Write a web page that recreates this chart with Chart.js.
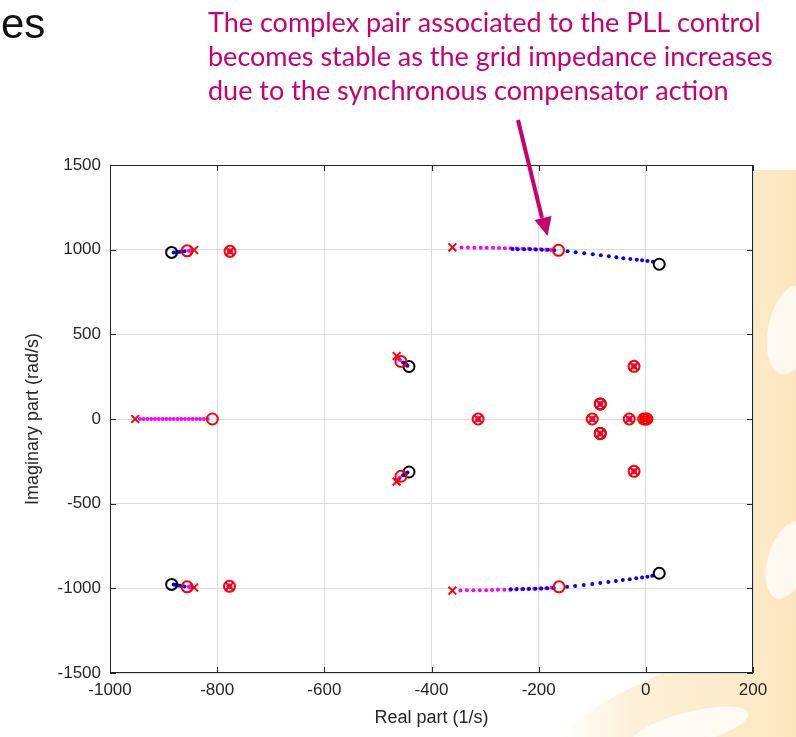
<!DOCTYPE html>
<html>
<head>
<meta charset="utf-8">
<script src="https://cdn.jsdelivr.net/npm/chart.js@4.4.0/dist/chart.umd.min.js"></script>
<style>
  html, body { margin: 0; background: #fff; }
  canvas { display: block; }
</style>
</head>
<body>
<canvas id="pzmap" width="796" height="737"></canvas>
<script>
// axis ticks
var xTicks = [-1000, -800, -600, -400, -200, 0, 200];
var yTicks = [-1500, -1000, -500, 0, 500, 1000, 1500];

// PLL complex pair, first sweep (magenta) and second sweep (blue)
var pllUpMagRe = [-344, -332, -320, -308, -297, -285, -274, -263, -252, -241, -230, -218, -207, -196, -186, -177];
var pllUpMagIm = [1013, 1013, 1012, 1012, 1011, 1011, 1010, 1009, 1008, 1007, 1006, 1005, 1003, 1002, 1000, 998];
var pllLoMagRe = [-346, -334, -322, -310, -298, -287, -276, -264, -253, -242, -231, -219, -208, -197, -186, -176];
var pllLoMagIm = [-1013, -1012, -1012, -1011, -1011, -1010, -1009, -1009, -1008, -1007, -1006, -1004, -1003, -1001, -999, -997];
var pllUpBlueRe = [-249, -239, -227, -216, -205, -194, -183, -171, -146, -131, -115, -99, -84, -69, -55, -42, -29, -17, -7, 3, 13];
var pllUpBlueIm = [1004, 1003, 1003, 1002, 1001, 1000, 999, 997, 990, 985, 979, 973, 967, 961, 955, 950, 945, 940, 937, 933, 929];
var pllLoBlueRe = [-252, -241, -229, -218, -206, -195, -184, -172, -147, -132, -116, -100, -85, -70, -56, -43, -30, -18, -7, 3, 12];
var pllLoBlueIm = [-1005, -1004, -1004, -1003, -1002, -1001, -1000, -998, -991, -986, -980, -974, -968, -962, -956, -951, -946, -941, -936, -931, -925];

// real pole moving along the negative real axis
var realMagRe = [-944, -937, -930, -923, -916, -909, -902, -895, -888, -881, -874, -867, -860, -853, -846, -839, -832, -825, -818];
var realMagIm = [0, 0, 0, 0, 0, 0, 0, 0, 0, 0, 0, 0, 0, 0, 0, 0, 0, 0, 0];

// high frequency pair near -850
var hfMagRe = [-853, -850, -847, -853, -850, -847];
var hfMagIm = [993, 995, 996, -991, -993, -994];
var hfBlueRe = [-881, -877, -873, -869, -865, -861, -881, -877, -873, -869, -865, -861];
var hfBlueIm = [983, 984, 986, 987, 989, 990, -978, -980, -983, -985, -987, -989];

// pair around -450
var midMagRe = [-463, -461, -459, -463, -461, -459];
var midMagIm = [364, 356, 348, -362, -354, -346];
var midBlueRe = [-453, -450, -447, -445, -453, -450, -447, -445];
var midBlueIm = [333, 326, 320, 314, -332, -326, -320, -316];

// modes that do not move with the grid impedance
var fixedRe = [-776, -777, -313, -100, -85, -85, -31, -22, -22, -4, 0, 2];
var fixedIm = [990, -988, 0, 0, 88, -86, 0, 311, -309, 0, 0, 0];

// sweep start (x), end of first sweep (red o), end of second sweep (black o)
var startRe = [-843, -843, -361, -361, -953, -465, -465];
var startIm = [998, -995, 1014, -1014, 0, 372, -370];
var midRe = [-856, -856, -163, -162, -809, -457, -457];
var midIm = [993, -991, 996, -991, 0, 340, -338];
var endRe = [-885, -885, 25, 25, -442, -442, -85, -85];
var endIm = [984, -977, 914, -911, 310, -313, 89, -85];

function pts(re, im) {
  return re.map(function (v, i) { return { x: v, y: im[i] }; });
}

var tickFont = { family: 'Arial, "Liberation Sans", sans-serif', size: 17 };
var textCol = '#262626';

var pageArt = {
  id: 'pageArt',
  beforeDraw: function (chart) {
    var ctx = chart.ctx, a = chart.chartArea;
    ctx.save();
    ctx.fillStyle = '#fff';
    ctx.fillRect(0, 0, chart.width, chart.height);
    // faint logo watermark at the right edge
    var g = ctx.createLinearGradient(560, 0, 796, 0);
    g.addColorStop(0, 'rgba(252,232,195,0)');
    g.addColorStop(0.3, 'rgba(252,230,190,0.6)');
    g.addColorStop(1, 'rgba(251,222,170,0.75)');
    ctx.fillStyle = g;
    ctx.beginPath();
    ctx.moveTo(753, 170);
    ctx.lineTo(796, 170);
    ctx.lineTo(796, 737);
    ctx.lineTo(560, 737);
    ctx.quadraticCurveTo(600, 690, 753, 640);
    ctx.closePath();
    ctx.fill();
    ctx.fillStyle = 'rgba(255,255,255,0.75)';
    ctx.beginPath();
    ctx.ellipse(690, 728, 60, 16, -0.25, 0, Math.PI * 2);
    ctx.fill();
    ctx.beginPath();
    ctx.ellipse(790, 330, 22, 45, 0.2, 0, Math.PI * 2);
    ctx.fill();
    ctx.beginPath();
    ctx.ellipse(788, 560, 20, 40, 0.3, 0, Math.PI * 2);
    ctx.fill();
    ctx.fillStyle = '#fff';
    ctx.fillRect(a.left, a.top, a.right - a.left, a.bottom - a.top);
    ctx.restore();
  },
  afterDraw: function (chart) {
    var ctx = chart.ctx, a = chart.chartArea;
    var sx = chart.scales.x, sy = chart.scales.y;
    ctx.save();
    // axes box with inward ticks
    ctx.strokeStyle = textCol;
    ctx.lineWidth = 1;
    ctx.strokeRect(a.left + 0.5, a.top + 0.5, a.right - a.left - 1, a.bottom - a.top - 1);
    ctx.beginPath();
    xTicks.forEach(function (v) {
      var px = Math.round(sx.getPixelForValue(v)) + 0.5;
      ctx.moveTo(px, a.bottom); ctx.lineTo(px, a.bottom - 6);
      ctx.moveTo(px, a.top); ctx.lineTo(px, a.top + 6);
    });
    yTicks.forEach(function (v) {
      var py = Math.round(sy.getPixelForValue(v)) + 0.5;
      ctx.moveTo(a.left, py); ctx.lineTo(a.left + 6, py);
      ctx.moveTo(a.right, py); ctx.lineTo(a.right - 6, py);
    });
    ctx.stroke();

    // slide title fragment
    ctx.fillStyle = '#111';
    ctx.font = '42px Arial, "Liberation Sans", sans-serif';
    ctx.textBaseline = 'alphabetic';
    ctx.fillText('es', 1, 38);

    // annotation
    var pink = '#c8006e';
    ctx.fillStyle = pink;
    ctx.font = '27px Lato, "Open Sans", sans-serif';
    ctx.fillText('The complex pair associated to the PLL control', 208, 32);
    ctx.fillText('becomes stable as the grid impedance increases', 208, 66);
    ctx.fillText('due to the synchronous compensator action', 208, 100);

    ctx.strokeStyle = pink;
    ctx.lineWidth = 4;
    ctx.beginPath();
    ctx.moveTo(518, 120);
    ctx.lineTo(542, 218);
    ctx.stroke();
    ctx.beginPath();
    ctx.moveTo(547.5, 236);
    ctx.lineTo(534.5, 220);
    ctx.lineTo(551.5, 216);
    ctx.closePath();
    ctx.fill();
    ctx.restore();
  }
};

var dot = { showLine: false, pointStyle: 'circle', pointRadius: 2, pointBorderWidth: 0 };
var plain = function (v) { return String(v); };

new Chart('pzmap', {
  type: 'scatter',
  data: {
    datasets: [
      { data: pts(midRe, midIm).concat(pts(fixedRe, fixedIm)), pointStyle: 'circle', pointRadius: 5.5, pointBorderWidth: 2,
        pointBorderColor: '#ff0000', pointBackgroundColor: 'rgba(0,0,0,0)' },
      { data: pts(endRe, endIm), pointStyle: 'circle', pointRadius: 5.5, pointBorderWidth: 2,
        pointBorderColor: '#000', pointBackgroundColor: 'rgba(0,0,0,0)' },
      { data: pts(startRe, startIm).concat(pts(fixedRe, fixedIm)), pointStyle: 'crossRot', pointRadius: 5.5, pointBorderWidth: 2,
        pointBorderColor: '#ff0000' },
      Object.assign({ data: pts(fixedRe, fixedIm), pointBackgroundColor: '#ff00ff' }, dot, { pointRadius: 3 }),
      Object.assign({ data: pts(pllUpBlueRe, pllUpBlueIm).concat(pts(pllLoBlueRe, pllLoBlueIm), pts(hfBlueRe, hfBlueIm), pts(midBlueRe, midBlueIm)),
        pointBackgroundColor: '#0000ff' }, dot),
      Object.assign({ data: pts(pllUpMagRe, pllUpMagIm).concat(pts(pllLoMagRe, pllLoMagIm), pts(realMagRe, realMagIm), pts(hfMagRe, hfMagIm), pts(midMagRe, midMagIm)),
        pointBackgroundColor: '#ff00ff' }, dot)
    ]
  },
  options: {
    responsive: false,
    animation: false,
    events: [],
    layout: { padding: { top: 165, right: 43, left: 0, bottom: 0 } },
    plugins: { legend: { display: false }, tooltip: { enabled: false } },
    scales: {
      x: {
        type: 'linear', min: -1000, max: 200,
        afterBuildTicks: function (s) { s.ticks = xTicks.map(function (v) { return { value: v }; }); },
        afterFit: function (s) { s.height = 64; },
        grid: { color: '#dcdcdc', lineWidth: 1, drawTicks: false },
        border: { display: false },
        ticks: { font: tickFont, color: textCol, padding: 7, maxRotation: 0, callback: plain },
        title: { display: true, text: 'Real part (1/s)', font: { family: tickFont.family, size: 18 }, color: textCol,
          padding: { top: 0, bottom: 8 } }
      },
      y: {
        type: 'linear', min: -1500, max: 1500,
        afterBuildTicks: function (s) { s.ticks = yTicks.map(function (v) { return { value: v }; }); },
        afterFit: function (s) { s.width = 110; },
        grid: { color: '#dcdcdc', lineWidth: 1, drawTicks: false },
        border: { display: false },
        ticks: { font: tickFont, color: textCol, padding: 9, callback: plain },
        title: { display: true, text: 'Imaginary part (rad/s)', font: { family: tickFont.family, size: 18 }, color: textCol,
          padding: { top: 22, bottom: 0 } }
      }
    }
  },
  plugins: [pageArt]
});
</script>
</body>
</html>
